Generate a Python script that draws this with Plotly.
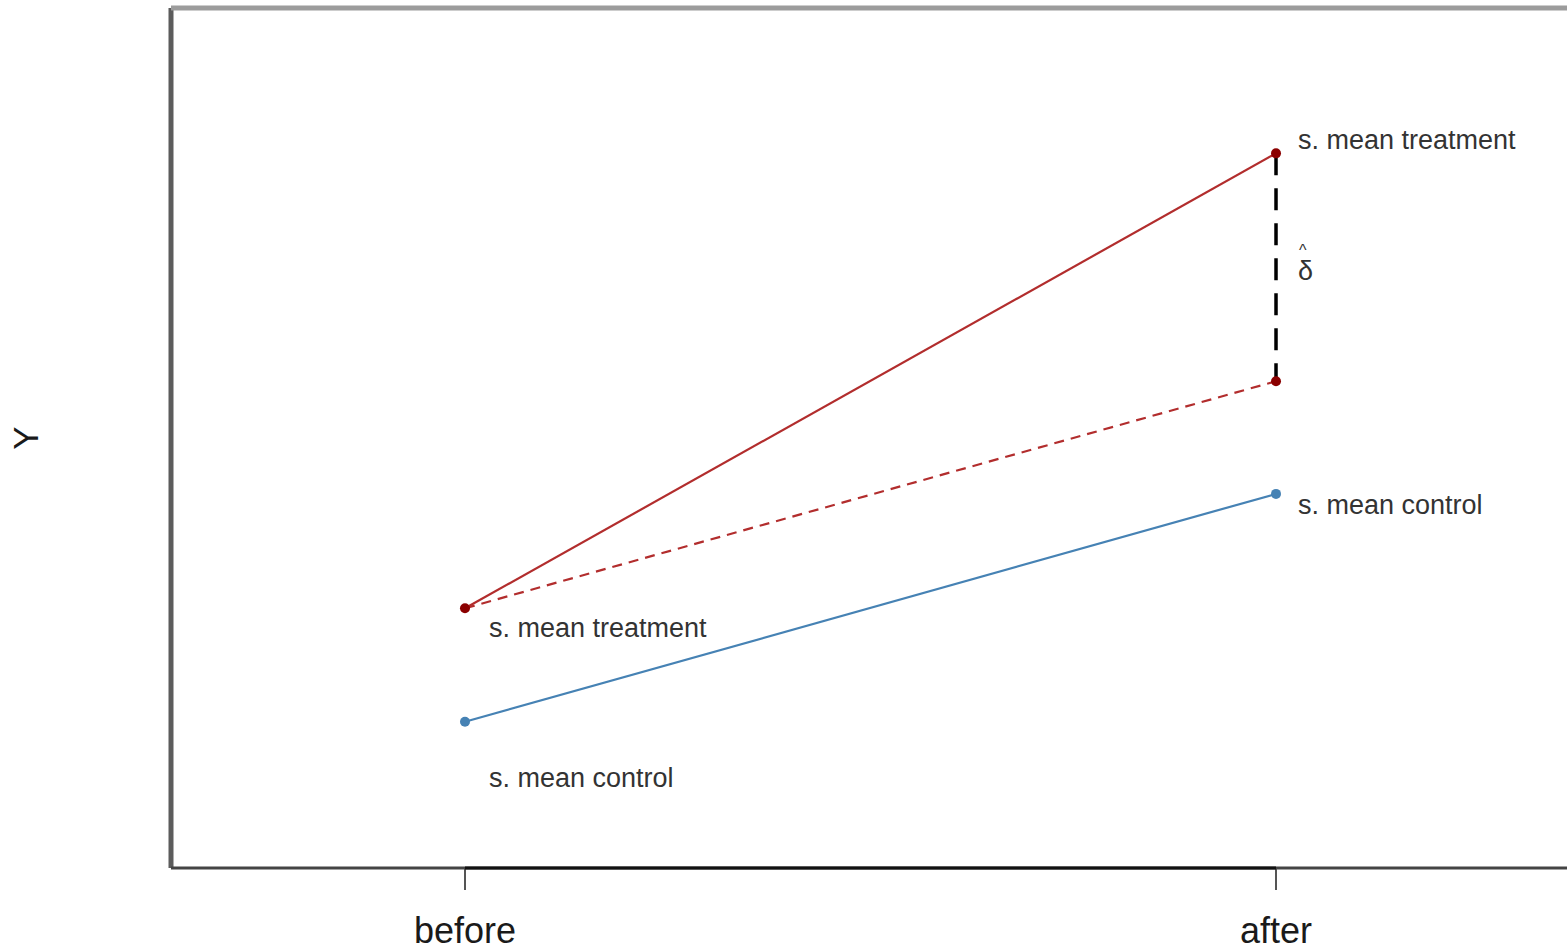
import plotly.graph_objects as go

periods = ["before", "after"]
treatment = [3.02, 8.31]
control = [1.70, 4.35]
counterfactual = [3.02, 5.66]

treat_line = "#b22d2d"
treat_pt = "#8b0000"
ctrl_col = "#4682b4"
txt_col = "#333333"
FONT = "Liberation Sans, Arial, sans-serif"

fig = go.Figure()

# counterfactual (dashed)
fig.add_trace(go.Scatter(x=periods, y=counterfactual, mode="lines",
                         line=dict(color=treat_line, width=2.2, dash="10px,7px"),
                         hoverinfo="skip", showlegend=False))
# treatment
fig.add_trace(go.Scatter(x=periods, y=treatment, mode="lines",
                         line=dict(color=treat_line, width=2.2),
                         hoverinfo="skip", showlegend=False))
# control
fig.add_trace(go.Scatter(x=periods, y=control, mode="lines",
                         line=dict(color=ctrl_col, width=2.2),
                         hoverinfo="skip", showlegend=False))
# delta hat (black dashed vertical)
fig.add_trace(go.Scatter(x=[periods[1], periods[1]], y=[treatment[1], counterfactual[1]],
                         mode="lines", line=dict(color="black", width=3.5, dash="22px,13px"),
                         hoverinfo="skip", showlegend=False))
# points
fig.add_trace(go.Scatter(x=periods + [periods[1]], y=treatment + [counterfactual[1]],
                         mode="markers", marker=dict(color=treat_pt, size=10),
                         hoverinfo="skip", showlegend=False))
fig.add_trace(go.Scatter(x=periods, y=control, mode="markers",
                         marker=dict(color=ctrl_col, size=10),
                         hoverinfo="skip", showlegend=False))

afont = dict(family=FONT, size=27, color=txt_col)
ann = [
    (periods[1], treatment[1], "s. mean treatment", 20, 13),
    (periods[1], control[1], "s. mean control", 20, -11),
    (periods[0], treatment[0], "s. mean treatment", 22, -20),
    (periods[0], control[0], "s. mean control", 22, -56),
]
for x, y, t, xs, ys in ann:
    fig.add_annotation(x=x, y=y, text=t, showarrow=False, xanchor="left", yanchor="middle",
                       xshift=xs, yshift=ys, font=afont)

mid = (treatment[1] + counterfactual[1]) / 2
fig.add_annotation(x=periods[1], y=mid, text="δ", showarrow=False, xanchor="left",
                   yanchor="middle", xshift=20, yshift=-4, font=afont)
fig.add_annotation(x=periods[1], y=mid, text="^", showarrow=False, xanchor="left",
                   yanchor="middle", xshift=21, yshift=17,
                   font=dict(family=FONT, size=16, color=txt_col))

# box borders
fig.add_shape(type="line", xref="paper", yref="paper", x0=0, x1=0, y0=0, y1=1,
              line=dict(color="#5c5c5c", width=5))
fig.add_shape(type="line", xref="paper", yref="paper", x0=0, x1=1, y0=1, y1=1,
              line=dict(color="#9c9c9c", width=5))
fig.add_shape(type="line", xref="paper", yref="paper", x0=0, x1=1, y0=0, y1=0,
              line=dict(color="#444444", width=3))
fig.add_shape(type="line", xref="x", yref="paper", x0=periods[0], x1=periods[1], y0=0, y1=0,
              line=dict(color="#111111", width=3))

fig.update_layout(
    width=1567, height=945, autosize=False,
    margin=dict(l=171, r=0, t=8, b=77),
    plot_bgcolor="white", paper_bgcolor="white",
    font=dict(family=FONT),
)
fig.update_xaxes(type="category", range=[-0.3625, 1.3588], showgrid=False, zeroline=False,
                 showline=False, ticks="outside", ticklen=21, tickwidth=2, tickcolor="#555555",
                 tickfont=dict(family=FONT, size=36, color="#1a1a1a"), ticklabelstandoff=10,
                 automargin=False)
fig.update_yaxes(range=[0, 10], showgrid=False, zeroline=False, showline=False,
                 showticklabels=False, ticks="", automargin=False,
                 title=dict(text="Y", font=dict(family=FONT, size=35, color="#1a1a1a"),
                            standoff=120))

fig.write_html("out.html", config={"displayModeBar": False},
               post_script="document.body.style.margin='0';document.body.style.overflow='hidden';")
